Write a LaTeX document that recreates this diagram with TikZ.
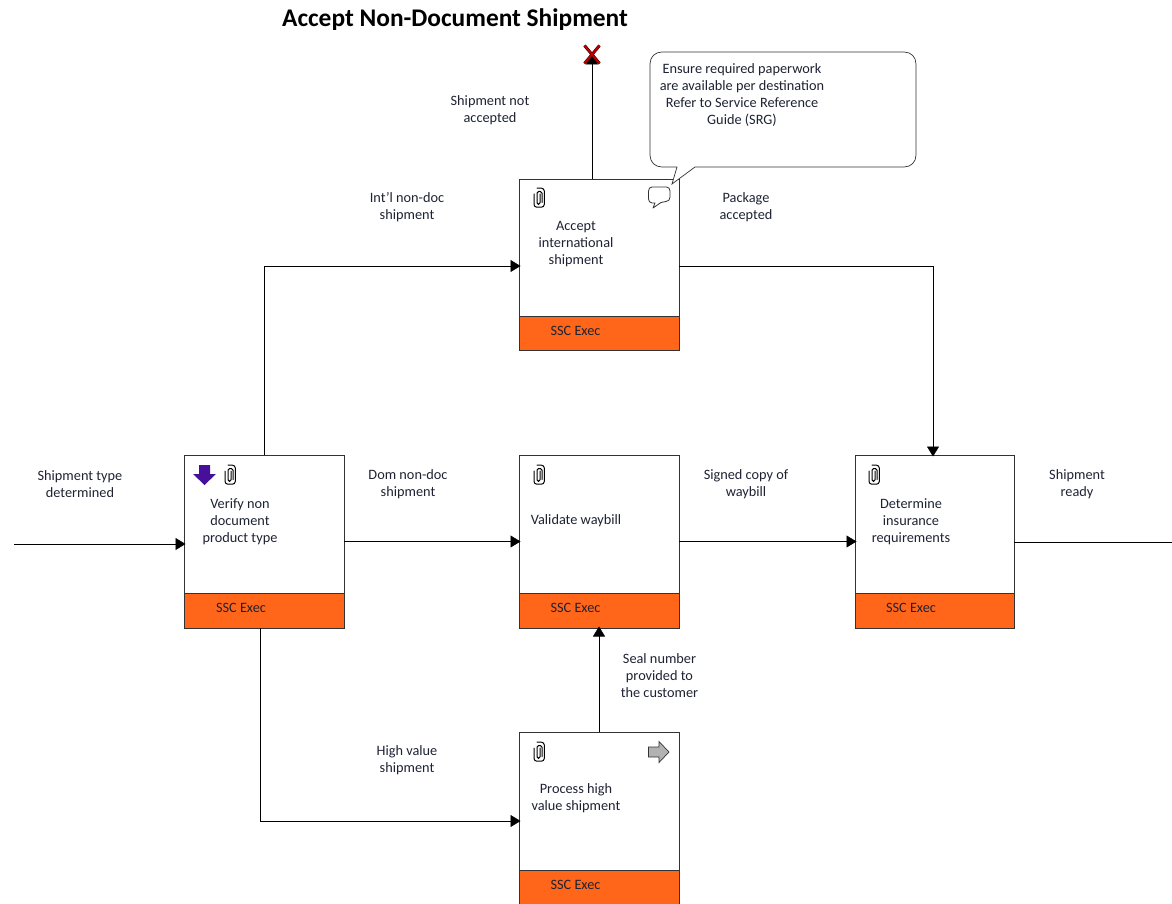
\documentclass[tikz,border=0pt]{standalone}
\usepackage{fontspec}
\setmainfont{Carlito}
\usetikzlibrary{arrows.meta}
\definecolor{orangeb}{HTML}{FF661A}
\definecolor{ink}{HTML}{1F2233}
\definecolor{purp}{HTML}{46109A}
\definecolor{edge}{HTML}{333333}
\tikzset{
  x=1pt,y=-1pt,
  every node/.style={inner sep=0pt,outer sep=0pt,font=\fontsize{14.3}{17}\selectfont,text=ink},
  box/.style={draw=edge,line width=0.8pt,fill=white,minimum width=160pt,rectangle},
  role/.style={draw=edge,line width=0.8pt,fill=orangeb,minimum width=160pt,rectangle},
  lbl/.style={align=center,yshift=-0.9pt},
  conn/.style={draw=black,line width=0.55pt,shorten >=-1.5pt,-{Triangle[length=10pt,width=12pt]}},
  plain/.style={draw=black,line width=0.55pt},
  clipline/.style={draw=black,line width=1pt,line cap=round,line join=round},
  pics/clipicon/.style={code={
    \draw[clipline,rounded corners=1.6pt] (1.5,-3.5) -- (1.5,7) -- (-1.5,7) -- (-1.5,-6) -- (3.5,-6) -- (3.5,5);
    \draw[clipline,rounded corners=2.8pt] (-4.5,-3.5) -- (-4.5,9.7) -- (5.8,9.7) -- (5.8,-9.3) -- (-1.5,-9.3);
  }}
}
\begin{document}
\begin{tikzpicture}
\useasboundingbox (0,0) rectangle (1172,904);
% boxes
\node[box,minimum height=173pt] (verify) at (264,541.5) {};
\node[box,minimum height=171pt] (accept) at (599,264.5) {};
\node[box,minimum height=173pt] (validate) at (599,541.5) {};
\node[box,minimum height=173pt,minimum width=159pt] (determine) at (934.5,541.5) {};
\node[box,minimum height=174pt] (process) at (599,819) {};
% role bands
\node[role,minimum height=35pt] (r1) at (264,610.5) {};
\node[role,minimum height=34pt] (r2) at (599,333) {};
\node[role,minimum height=35pt] (r3) at (599,610.5) {};
\node[role,minimum height=35pt,minimum width=159pt] (r4) at (934.5,610.5) {};
\node[role,minimum height=36pt] (r5) at (599,888) {};
\node (rt1) at (241,607.5) {SSC Exec};
\node (rt2) at (575.5,331) {SSC Exec};
\node (rt3) at (575.5,607.5) {SSC Exec};
\node (rt4) at (911,607.5) {SSC Exec};
\node (rt5) at (575.5,884.5) {SSC Exec};
% box texts
\node[lbl] (t1) at (240,520.5) {Verify non\\document\\product type};
\node[lbl] (t2) at (576,243.5) {Accept\\international\\shipment};
\node[lbl] (t3) at (576,520) {Validate waybill};
\node[lbl] (t4) at (911,520.5) {Determine\\insurance\\requirements};
\node[lbl] (t5) at (576,797) {Process high\\value shipment};
% free ends
\coordinate (inp) at (14,544);
\coordinate (outp) at (1172,542);
\coordinate (stop) at (592,56);
% connectors
\draw[conn] (inp) -- (verify.west |- inp);
\draw[conn] (verify.east) -- (validate.west);
\draw[conn] (validate.east) -- (determine.west);
\draw[plain] (determine.east |- outp) -- (outp);
\draw[conn] (verify.north) |- ([yshift=-1.5pt]accept.west);
\draw[conn] ([yshift=-1.5pt]accept.east) -| ([xshift=-1.5pt]determine.north);
\draw[conn] ([xshift=-4pt]verify.south) |- ([yshift=-2pt]process.west);
\draw[conn] (process.north) -- (validate.south);
\draw[conn] ([xshift=-7pt]accept.north) -- (stop);
% stop mark
\draw[draw=black!70!red,line width=3pt] (584.5,45.5) -- (599.5,63.5) (599.5,45.5) -- (584.5,63.5);
\draw[draw=red!75!black,line width=1.7pt] (584.5,45.5) -- (599.5,63.5) (599.5,45.5) -- (584.5,63.5);
% callout
\draw[draw=edge,line width=0.7pt,fill=white,rounded corners=0pt]
  (672,184) -- (677,167) -- (662,167)
  .. controls (655,167) and (650,162) .. (650,155) -- (650,64)
  .. controls (650,57) and (655,52) .. (662,52) -- (904,52)
  .. controls (911,52) and (916,57) .. (916,64) -- (916,155)
  .. controls (916,162) and (911,167) .. (904,167) -- (695,167) -- cycle;
\node[lbl] (note) at (742,94) {Ensure required paperwork\\are available per destination\\Refer to Service Reference\\Guide (SRG)};
% outside labels
\node[font=\fontsize{25.4}{30}\selectfont\bfseries,text=black] (title) at (455,20) {Accept Non-Document Shipment};
\node[lbl] (l1) at (490,109) {Shipment not\\accepted};
\node[lbl] (l2) at (407,206.5) {Int'l non-doc\\shipment};
\node[lbl] (l3) at (746,206.5) {Package\\accepted};
\node[lbl] (l4) at (80,483.5) {Shipment type\\determined};
\node[lbl] (l5) at (408,483.5) {Dom non-doc\\shipment};
\node[lbl] (l6) at (746,483.5) {Signed copy of\\waybill};
\node[lbl] (l7) at (1077,483.5) {Shipment\\ready};
\node[lbl] (l8) at (659.5,675) {Seal number\\provided to\\the customer};
\node[lbl] (l9) at (407,759.5) {High value\\shipment};
% icons
\pic at (538.5,197.5) {clipicon};
\pic at (229.5,474.5) {clipicon};
\pic at (538.5,474.5) {clipicon};
\pic at (873.5,474.5) {clipicon};
\pic at (538.5,751.5) {clipicon};
\fill[purp] (199,465) -- (210,465) -- (210,474) -- (216,474) -- (204.5,485) -- (193,474) -- (199,474) -- cycle;
\draw[draw=edge,line width=0.7pt,fill=black!30] (648.5,747) -- (659,747) -- (659,741.5) -- (669,752) -- (659,762.5) -- (659,757) -- (648.5,757) -- cycle;
\draw[draw=edge,line width=0.8pt,fill=white,line join=round]
  (653,208) -- (655,203) -- (652,203)
  .. controls (650,203) and (648.5,201) .. (648.5,199) -- (648.5,191)
  .. controls (648.5,188.5) and (650,187) .. (652,187) -- (666.5,187)
  .. controls (668.5,187) and (670,188.5) .. (670,191) -- (670,197)
  .. controls (670,200) and (668.5,201) .. (666,201.5) -- (661,202.5) -- cycle;
\end{tikzpicture}
\end{document}
